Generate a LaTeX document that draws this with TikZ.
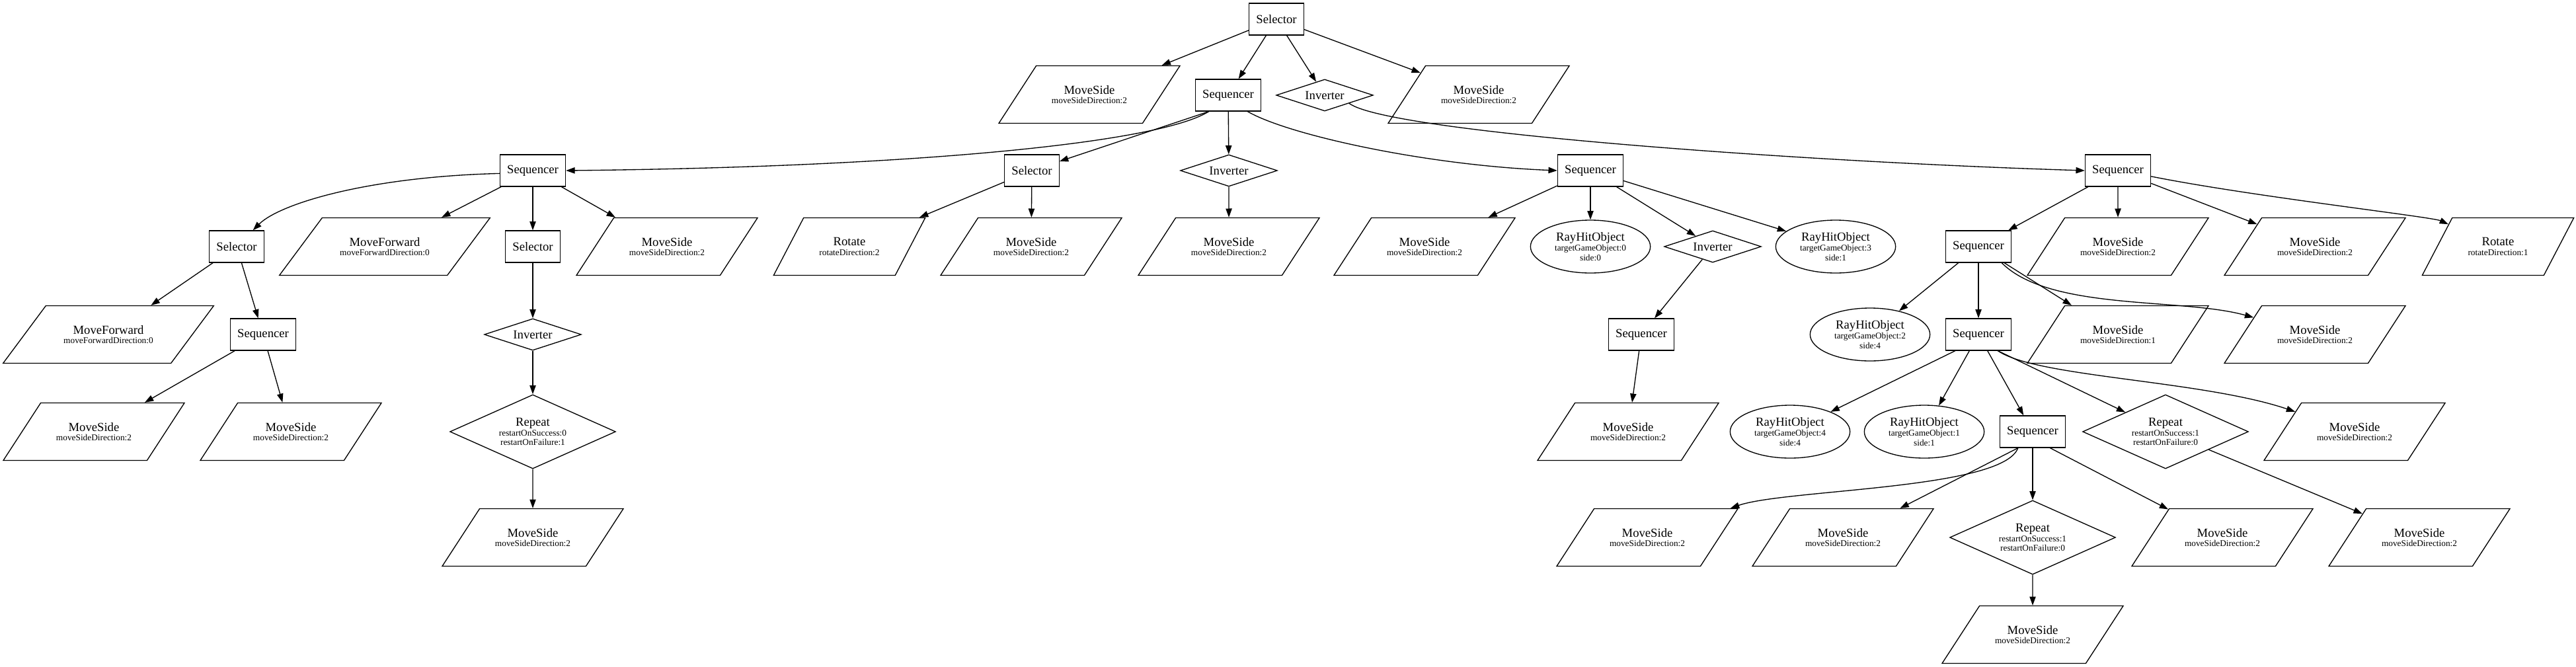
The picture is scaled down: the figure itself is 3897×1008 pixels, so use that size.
\documentclass[tikz,border=0pt]{standalone}
\usepackage{fontspec}
\setmainfont{Liberation Serif}
\usetikzlibrary{arrows.meta,shapes.geometric}
\tikzset{
    ctrl/.style={rectangle,draw,line width=1pt,minimum width=54pt,minimum height=36pt,inner xsep=8pt,font=\fontsize{14}{17}\selectfont},
    notbox/.style={diamond,draw,line width=1pt,aspect=3,inner sep=0pt,minimum width=110pt,minimum height=36pt,font=\fontsize{14}{17}\selectfont},
    rep/.style={diamond,draw,line width=1pt,aspect=2.2,inner sep=0pt,minimum width=188pt,minimum height=84pt,align=center,font=\fontsize{10}{11}\selectfont},
    act/.style={trapezium,trapezium left angle=56.8,trapezium right angle=123.2,trapezium stretches body,draw,line width=1pt,inner xsep=0pt,inner ysep=22pt,minimum width=205.5pt,minimum height=65.25pt,align=center,font=\fontsize{10}{11}\selectfont},
    act wide/.style={act,trapezium left angle=53.2,trapezium right angle=126.8,minimum width=239pt},
    act narrow/.style={act,trapezium left angle=62.1,trapezium right angle=117.9,minimum width=172pt},
    ray/.style={ellipse,draw,line width=1pt,inner sep=0pt,minimum width=136pt,minimum height=60pt,align=center,font=\fontsize{10}{11}\selectfont},
    pre/.style={-{Triangle[length=10pt,width=7pt]},line width=1pt},
    post/.style={{Triangle[length=10pt,width=7pt]}-,line width=1pt}
}
\newcommand{\nodelbl}[2]{{\fontsize{14}{11}\selectfont #1}\\#2}

\begin{document}
\begin{tikzpicture}[x=0.75pt,y=-0.75pt]

                \useasboundingbox (0,0) rectangle (3897,1008);

                \node[ctrl]   (sel 0)  at (1931,29)  {Selector};

                % first level
                \node[act]    (move 1) at (1648,143) {\nodelbl{MoveSide}{moveSideDirection:2}}
                    edge[post] (sel 0);
                \node[ctrl]   (seq 1)  at (1858,144) {Sequencer}
                    edge[post] (sel 0);
                \node[notbox] (inv 1)  at (2004,144) {Inverter}
                    edge[post] (sel 0);
                \node[act]    (move 2) at (2237,143) {\nodelbl{MoveSide}{moveSideDirection:2}}
                    edge[post] (sel 0);

                % second level
                \node[ctrl]   (seq 2)  at (806,258)  {Sequencer};
                \node[ctrl]   (sel 2)  at (1561,258) {Selector}
                    edge[post] (seq 1.220);
                \node[notbox] (inv 2)  at (1859,258) {Inverter}
                    edge[post] (seq 1);
                \node[ctrl]   (seq 3)  at (2406,258) {Sequencer};
                \node[ctrl]   (seq 4)  at (3204,258) {Sequencer};
                \draw[pre] (seq 1.220) .. controls +(-80,50) and +(500,-5) .. (seq 2.east);
                \draw[pre] (seq 1.320) .. controls +(60,35) and +(-200,-8) .. (seq 3.west);
                \draw[pre] (inv 1.south east) .. controls +(60,45) and +(-400,-12) .. (seq 4.west);

                % left branch
                \node[ctrl]   (sel 3)  at (358,373)  {Selector};
                \draw[pre] (seq 2.185) .. controls +(-200,5) and +(40,-40) .. (sel 3.45);
                \node[act wide] (fwd 1) at (582,373) {\nodelbl{MoveForward}{moveForwardDirection:0}}
                    edge[post] (seq 2);
                \node[ctrl]   (sel 4)  at (806,373)  {Selector}
                    edge[post] (seq 2);
                \node[act]    (move 3) at (1009,373) {\nodelbl{MoveSide}{moveSideDirection:2}}
                    edge[post] (seq 2);
                \node[act wide] (fwd 2) at (164,506) {\nodelbl{MoveForward}{moveForwardDirection:0}}
                    edge[post] (sel 3);
                \node[ctrl]   (seq 5)  at (398,506)  {Sequencer}
                    edge[post] (sel 3);
                \node[act]    (move 4) at (142,653)  {\nodelbl{MoveSide}{moveSideDirection:2}}
                    edge[post] (seq 5);
                \node[act]    (move 5) at (440,653)  {\nodelbl{MoveSide}{moveSideDirection:2}}
                    edge[post] (seq 5);
                \node[notbox] (inv 3)  at (806,506)  {Inverter}
                    edge[post] (sel 4);
                \node[rep]    (rep 1)  at (806,653)  {\nodelbl{Repeat}{restartOnSuccess:0\\restartOnFailure:1}}
                    edge[post] (inv 3);
                \node[act]    (move 6) at (806,813)  {\nodelbl{MoveSide}{moveSideDirection:2}}
                    edge[post] (rep 1);

                % middle branch
                \node[act narrow] (rot 1) at (1285,373) {\nodelbl{Rotate}{rotateDirection:2}}
                    edge[post] (sel 2);
                \node[act]    (move 7) at (1560,373) {\nodelbl{MoveSide}{moveSideDirection:2}}
                    edge[post] (sel 2);
                \node[act]    (move 8) at (1859,373) {\nodelbl{MoveSide}{moveSideDirection:2}}
                    edge[post] (inv 2);

                \node[act]    (move 9) at (2155,373) {\nodelbl{MoveSide}{moveSideDirection:2}}
                    edge[post] (seq 3);
                \node[ray]    (ray 1)  at (2406,373) {\nodelbl{RayHitObject}{targetGameObject:0\\side:0}}
                    edge[post] (seq 3);
                \node[notbox] (inv 4)  at (2591,373) {Inverter}
                    edge[post] (seq 3);
                \node[ray]    (ray 2)  at (2777,373) {\nodelbl{RayHitObject}{targetGameObject:3\\side:1}}
                    edge[post] (seq 3);
                \node[ctrl]   (seq 6)  at (2483,506) {Sequencer}
                    edge[post] (inv 4);
                \node[act]    (move 10) at (2463,653) {\nodelbl{MoveSide}{moveSideDirection:2}}
                    edge[post] (seq 6);

                % right branch
                \node[ctrl]   (seq 7)  at (2993,373) {Sequencer}
                    edge[post] (seq 4);
                \node[act]    (move 11) at (3204,373) {\nodelbl{MoveSide}{moveSideDirection:2}}
                    edge[post] (seq 4);
                \node[act]    (move 12) at (3502,373) {\nodelbl{MoveSide}{moveSideDirection:2}}
                    edge[post] (seq 4);
                \node[act narrow] (rot 2) at (3779,373) {\nodelbl{Rotate}{rotateDirection:1}};
                \draw[pre] (seq 4.-10) .. controls +(150,30) and +(-100,-45) .. (rot 2);

                \node[ray]    (ray 3)  at (2829,506) {\nodelbl{RayHitObject}{targetGameObject:2\\side:4}}
                    edge[post] (seq 7);
                \node[ctrl]   (seq 8)  at (2993,506) {Sequencer}
                    edge[post] (seq 7);
                \node[act]    (move 13) at (3204,506) {\nodelbl{MoveSide}{moveSideDirection:1}}
                    edge[post] (seq 7);
                \node[act]    (move 14) at (3502,506) {\nodelbl{MoveSide}{moveSideDirection:2}};
                \draw[pre] (seq 7.325) .. controls +(73,73) and +(-202,-56) .. (move 14);

                \node[ray]    (ray 4)  at (2708,653) {\nodelbl{RayHitObject}{targetGameObject:4\\side:4}}
                    edge[post] (seq 8.215);
                \node[ray]    (ray 5)  at (2911,653) {\nodelbl{RayHitObject}{targetGameObject:1\\side:1}}
                    edge[post] (seq 8);
                \node[ctrl]   (seq 9)  at (3075,653) {Sequencer}
                    edge[post] (seq 8);
                \node[rep]    (rep 2)  at (3276,653) {\nodelbl{Repeat}{restartOnSuccess:1\\restartOnFailure:0}}
                    edge[post] (seq 8.320);
                \node[act]    (move 15) at (3562,653) {\nodelbl{MoveSide}{moveSideDirection:2}};
                \draw[pre] (seq 8.320) .. controls +(58,40) and +(-232,-78) .. (move 15);

                \node[act]    (move 16) at (2492,813) {\nodelbl{MoveSide}{moveSideDirection:2}};
                \draw[pre] (seq 9.228) .. controls +(-23,63) and +(208,-73) .. (move 16);
                \node[act]    (move 17) at (2788,813) {\nodelbl{MoveSide}{moveSideDirection:2}}
                    edge[post] (seq 9.228);
                \node[rep]    (rep 3)  at (3075,813) {\nodelbl{Repeat}{restartOnSuccess:1\\restartOnFailure:0}}
                    edge[post] (seq 9);
                \node[act]    (move 18) at (3362,813) {\nodelbl{MoveSide}{moveSideDirection:2}}
                    edge[post] (seq 9.317);
                \node[act]    (move 19) at (3660,813) {\nodelbl{MoveSide}{moveSideDirection:2}}
                    edge[post] (rep 2);
                \node[act]    (move 20) at (3075,960) {\nodelbl{MoveSide}{moveSideDirection:2}}
                    edge[post] (rep 3);

            \end{tikzpicture}
\end{document}
